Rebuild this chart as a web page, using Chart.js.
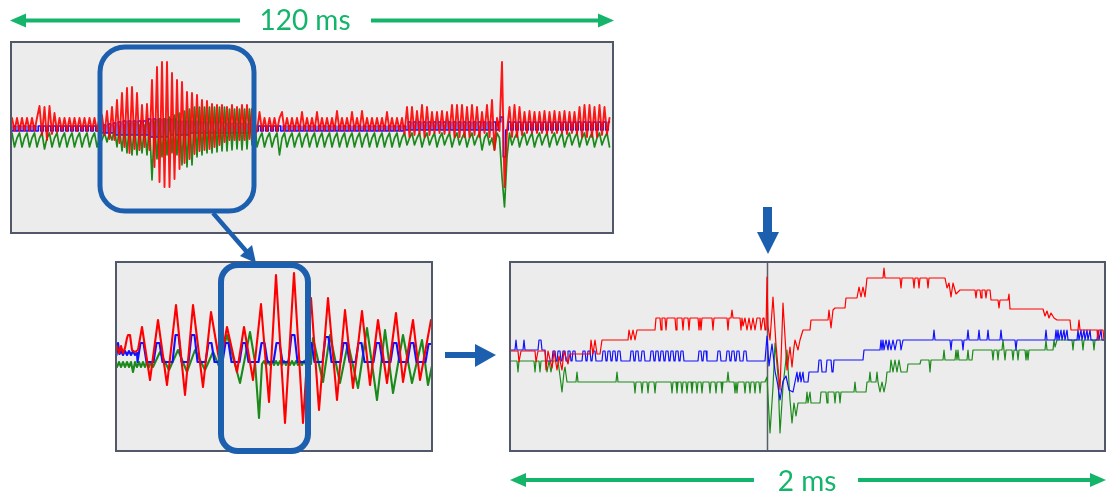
<!DOCTYPE html>
<html>
<head>
<meta charset="utf-8">
<script src="https://cdn.jsdelivr.net/npm/chart.js@4.4.1/dist/chart.umd.min.js"></script>
<style>
  html, body { margin: 0; padding: 0; background: #ffffff; width: 1106px; height: 493px; overflow: hidden; }
  .panel { position: absolute; box-sizing: border-box; border: 2px solid #505869; background: #ececec; }
  .panel canvas { display: block; }
  #ann { position: absolute; left: 0; top: 0; pointer-events: none; }
</style>
</head>
<body>
<div class="panel" style="left:10px;top:41px;width:604px;height:193px"><canvas id="cTop" width="600" height="189"></canvas></div>
<div class="panel" style="left:115px;top:261px;width:318px;height:191px"><canvas id="cMid" width="314" height="187"></canvas></div>
<div class="panel" style="left:509px;top:261px;width:597px;height:191px"><canvas id="cZoom" width="593" height="187"></canvas></div>

<svg id="ann" width="1106" height="493" viewBox="0 0 1106 493">
  <g fill="#14b56b">
    <rect x="24" y="18.5" width="216" height="4"/>
    <polygon points="10,20.5 26,13.5 26,27.5"/>
    <rect x="371" y="18.5" width="229" height="4"/>
    <polygon points="614,20.5 598,13.5 598,27.5"/>
    <rect x="524" y="478" width="230" height="4"/>
    <polygon points="510,480 526,473 526,487"/>
    <rect x="858" y="478" width="234" height="4"/>
    <polygon points="1106,480 1090,473 1090,487"/>
  </g>
  <text x="305" y="30" text-anchor="middle" font-family="Lato, 'Open Sans', sans-serif" font-size="28" fill="#14b56b">120 ms</text>
  <text x="807" y="491" text-anchor="middle" font-family="Lato, 'Open Sans', sans-serif" font-size="28" fill="#14b56b">2 ms</text>
  <g fill="none" stroke="#1c5fae">
    <rect x="100" y="47" width="154" height="164" rx="25" ry="25" stroke-width="5"/>
    <rect x="221" y="265" width="87" height="186" rx="17" ry="17" stroke-width="6"/>
    <line x1="213" y1="213" x2="247" y2="252" stroke-width="4.5"/>
  </g>
  <g fill="#1c5fae">
    <polygon points="256,263 240,256 252,245"/>
    <rect x="445" y="352" width="32" height="6"/>
    <polygon points="475,344 496,355 475,367"/>
    <rect x="763" y="207" width="9" height="27"/>
    <polygon points="757,232 779,232 768,254"/>
  </g>
</svg>

<script>
// ---- Overview record: 120 ms, one sample every 0.5 ms ----
const topStepMs = 0.5;
const topRed = [
  19,6,19,6,19,6,19,6,19,6,
  19,31,2,30,-3,31,3,24,5,19,
  6,19,6,19,6,19,6,19,6,19,
  6,19,6,19,6,19,22,2,26,-2,
  30,-3,37,-6,44,-10,49,-16,50,-12,
  44,-13,32,-10,33,-13,57,-30,70,-45,
  75,-50,75,-50,64,-42,57,-32,55,-26,
  45,-22,44,-17,42,-14,37,-13,36,-12,
  33,-10,32,-8,32,-5,30,-3,32,-3,
  30,-3,32,-3,32,-2,28,2,6,25,
  6,19,6,19,6,19,6,19,25,6,
  19,6,19,6,19,6,25,6,19,6,
  19,6,25,6,19,6,19,6,19,6,
  26,6,19,6,19,6,25,6,19,6,
  26,6,19,6,19,6,19,6,19,6,
  25,6,19,6,19,6,19,3,30,0,
  30,2,26,3,32,0,30,2,25,4,
  25,4,26,3,25,4,32,0,32,0,
  32,0,30,0,32,2,30,0,25,4,
  32,0,37,-13,19,6,75,-50,6,30,
  0,32,0,30,2,25,4,26,4,25,
  4,25,4,26,3,25,4,26,4,25,
  4,26,3,25,4,25,3,30,0,32,
  0,32,0,30,0,32,2,30,3,19
];
const topBlue = [
  6,11,6,11,6,11,6,11,6,11,
  6,11,6,11,6,11,6,11,6,11,
  6,11,6,11,6,11,6,11,6,11,
  6,11,6,11,6,11,4,12,4,13,
  4,14,2,15,2,16,2,16,2,16,
  2,16,2,16,2,18,0,18,0,18,
  0,18,0,18,2,18,2,16,2,16,
  2,16,4,16,4,16,4,15,4,15,
  4,15,4,15,4,15,4,14,4,14,
  4,14,4,14,4,13,6,12,6,11,
  6,11,6,11,6,11,6,11,6,11,
  6,11,6,11,6,11,6,11,6,11,
  6,11,6,11,6,11,6,11,6,11,
  6,11,6,11,6,11,6,11,6,11,
  6,11,6,11,6,11,6,11,6,11,
  6,11,6,11,6,11,6,11,7,15,
  7,15,7,15,7,15,7,15,7,15,
  7,15,7,15,7,15,7,15,7,15,
  7,15,7,15,7,15,7,15,7,15,
  7,15,7,15,7,15,20,-20,7,15,
  7,15,7,15,7,15,7,15,7,15,
  7,15,7,15,7,15,7,15,7,15,
  7,15,7,15,7,15,7,15,7,15,
  7,15,7,15,7,15,7,15,7,15
];
const topGreen = [
  4,-10,-1,4,-10,-1,4,-10,-1,4,
  -10,-1,4,-12,-1,4,-10,-1,4,-10,
  -1,4,-10,-1,4,-10,-1,4,-10,-1,
  4,-10,-1,4,-10,-1,-3,4,-5,4,
  -3,8,-10,10,-14,12,-16,14,-18,14,
  -18,12,-16,12,-18,14,-43,16,-22,18,
  -20,18,-18,20,-16,22,-18,24,-28,26,
  -30,28,-28,30,-20,30,-18,30,-16,30,
  -16,30,-15,30,-14,30,-14,28,-13,28,
  -12,28,-13,28,-12,28,-8,20,-10,-1,
  4,-10,-1,4,-10,-1,4,-18,-1,4,
  -10,-1,4,-10,-1,4,-10,-1,4,-10,
  -1,4,-10,-1,4,-10,-1,4,-10,-1,
  4,-10,-1,4,-10,-1,4,-10,-1,4,
  -10,-1,4,-10,-1,4,-10,-1,4,-10,
  -1,4,-10,-1,4,-10,-1,4,-8,-1,
  4,-8,-1,4,-10,-1,4,-8,-1,4,
  -10,-1,4,-8,-1,4,-10,-1,4,-8,
  -1,4,-10,-1,4,-8,-1,4,-13,-1,
  4,-8,-1,-13,4,-1,-40,-70,-20,4,
  -8,-1,4,-10,-1,4,-8,-1,4,-10,
  -1,4,-8,-1,4,-10,-1,4,-8,-1,
  4,-10,-1,4,-8,-1,4,-10,-1,4,
  -8,-1,4,-10,-1,4,-8,-1,4,-10
];

// ---- Burst detail: [time, value] ----
const midRed = [[0,6],[2,10],[4,3],[6,10],[8,3],[10,8],[12,18],[13,21],[15,21],[17,6],[20,4],[23,6],[27,29],[35,-24],[43,36],[52,-29],[61,51],[70,-39],[78,51],[88,-31],[96,44],[105,-9],[112,29],[122,-16],[129,29],[138,-24],[146,52],[154,-46],[161,81],[170,-67],[179,83],[188,-67],[196,58],[204,-54],[213,58],[222,-44],[230,46],[238,-32],[247,45],[255,-29],[263,36],[272,-27],[281,43],[288,-26],[298,36],[305,-24],[316,36],[318,30]];
const midBlue = [[0,5],[1.5,1],[3,13],[4.5,2],[6,5],[8,1],[10,5],[12,1],[14,5],[16,1],[18,5],[20,1],[22,3],
  [22.5,-6],[25.5,13],[28.5,13],[31.5,-6],
  [38.5,-6],[41.5,13],[44.5,13],[47.5,-6],
  [57.5,-6],[60.5,21],[63.5,21],[66.5,-6],
  [73.5,-6],[76.5,21],[79.5,21],[82.5,-6],
  [90.5,-6],[93.5,13],[96.5,13],[99.5,-6],
  [107.5,-6],[110.5,13],[113.5,13],[116.5,-6],
  [124.5,-6],[127.5,13],[130.5,13],[133.5,-6],
  [143.5,-6],[146.5,13],[149.5,13],[152.5,-6],
  [158.5,-6],[161.5,13],[164.5,13],[167.5,-6],
  [173.5,-6],[176.5,21],[179.5,21],[182.5,-6],
  [190.5,-6],[193.5,13],[196.5,13],[199.5,-6],
  [207.5,-6],[210.5,19],[213.5,19],[216.5,-6],
  [225.5,-6],[228.5,13],[231.5,13],[234.5,-6],
  [240.5,-6],[243.5,13],[246.5,13],[249.5,-6],
  [258.5,-6],[261.5,13],[264.5,13],[267.5,-6],
  [275.5,-6],[278.5,13],[281.5,13],[284.5,-6],
  [292.5,-6],[295.5,13],[298.5,13],[301.5,-6],
  [310.5,-6],[313.5,12],[316.5,12],[319.5,-6]];
const midGreen = [[0,-6],[2,-11],[4,-6],[6,-11],[8,-6],[10,-11],[12,-6],[14,-11],[16,-6],[18,-16],[20,-6],[22,-11],[24,-6],[26,-11],[28,-6],[30,-11],[32,-6],[34,-11],[36,-6],[38,-11],
  [45,4],[54,-14],[63,6],[72,-16],[80,6],[90,-14],[98,4],[104,-10],[112,21],[125,-27],[135,24],[140,-6],[144,-62],[147,-8],
  [149,-5],[151,-9],[153,-5],[155,-9],[157,-5],[159,-9],[161,-5],[163,-9],[165,-5],[167,-9],[169,-5],[171,-9],[173,-5],[175,-9],[177,-5],[179,-9],[181,-5],[183,-9],[185,-5],[187,-9],[189,-5],[191,-9],[193,-5],[196,-8],
  [198,18],[208,-26],[215,21],[225,-27],[233,13],[243,-32],[252,28],[262,-44],[270,26],[278,-37],[288,21],[297,-27],[307,16],[313,-29],[318,-5]];

// ---- 2 ms around the fault instant: [sample, value] ----
const faultSample = 257;
const zoomRed = [[0,5],[8,5],[9,-6],[11,5],[25,5],[26,-6],[28,5],[35,5],[36,-14],[38,5],[42,-12],[44,5],[47,-14],[49,0],[52,-14],[54,5],[58,-8],[60,2],[80,2],[81,16],[83,2],[85,16],[87,2],[90,2],[92,16],[118,16],[119,26],[121,16],[123,26],[125,16],[127,26],[145,26],[146,38],[150,38],[151,26],[152,38],[155,38],[156,26],[157,38],[165,38],[166,26],[167,38],[172,38],[173,26],[174,38],[178,38],[179,26],[180,38],[188,38],[189,26],[190,38],[191,26],[192,38],[202,38],[203,26],[204,38],[217,38],[218,26],[219,38],[221,38],[222,46],[223,38],[230,38],[231,26],[232,38],[233,30],[235,38],[237,26],[239,38],[241,26],[243,38],[245,26],[247,38],[250,38],[251,26],[253,38],[254,38],[255,26],[256,26],
  [257,79],[258,30],[260,16],[263,59],[266,11],[270,-34],[273,53],[277,-14],[280,9],[282,-11],[284,9],[285,16],[288,6],[290,16],[293,26],[300,26],[301,36],[318,36],[319,46],[321,28],[323,46],[325,48],[335,48],[336,58],[347,58],[349,69],[351,59],[353,69],[355,59],[357,78],[373,78],[374,88],[375,78],[390,78],[391,68],[392,78],[403,78],[404,68],[405,78],[408,78],[409,68],[410,78],[417,78],[418,68],[419,78],[435,78],[437,68],[439,73],[441,59],[443,73],[446,62],[450,66],[465,66],[466,58],[467,66],[470,66],[471,58],[472,66],[475,66],[476,58],[477,66],[480,66],[481,56],[488,56],[489,48],[490,56],[498,56],[499,62],[500,47],[533,47],[535,40],[537,45],[539,38],[541,43],[544,38],[547,36],[560,36],[561,26],[568,26],[569,36],[570,26],[587,26],[588,16],[589,26],[593,26],[594,16],[595,26]];
const zoomBlue = [[0,6],[5,6],[6,16],[7,6],[13,6],[14,16],[15,6],[28,6],[29,16],[31,16],[32,6],[35,6],[36,-5],
  [42,-5],[43,5],[45,5],[46,-5],[47,-5],[48,5],[50,5],[51,-5],[52,-5],[53,5],[55,5],[56,-5],[57,-5],[58,5],[60,5],[61,-5],[62,-5],[63,5],[65,5],[66,-5],
  [72,-5],[73,5],[75,5],[76,-5],[77,-5],[78,5],[80,5],[81,-5],[82,-5],[83,5],[85,5],[86,-5],
  [92,-5],[93,5],[95,5],[96,-5],[97,-5],[98,5],[100,5],[101,-5],[102,-5],[103,5],[105,5],[106,-5],[107,-5],[108,5],[110,5],[111,-5],
  [120,-5],[121,5],[123,5],[124,-5],[125,-5],[126,5],[128,5],[129,-5],[131,-5],[132,5],[134,5],[135,-5],
  [140,-5],[141,5],[143,5],[144,-5],[145,-5],[146,5],[148,5],[149,-5],[150,-5],[151,5],[153,5],[154,-5],[155,-5],[156,5],[158,5],[159,-5],[160,-5],[161,5],[163,5],[164,-5],[165,-5],[166,5],[168,5],[169,-5],[170,-5],[171,5],[173,5],[174,-5],
  [188,-5],[189,5],[191,5],[192,-5],[193,-5],[194,5],[196,5],[197,-5],
  [207,-5],[208,5],[210,5],[211,-5],
  [216,-5],[217,5],[219,5],[220,-5],[221,-5],[222,5],[224,5],[225,-5],[226,-5],[227,5],[229,5],[230,-5],
  [233,-5],[234,5],[236,5],[237,-5],[255,-5],
  [257,20],[259,-10],[262,12],[265,-15],[268,-30],[270,-44],[273,-25],[276,-20],[279,-34],[283,-36],[285,-26],[287,-16],[288,-26],[290,-16],[291,-26],[293,-16],[294,-26],[298,-26],[299,-16],[308,-16],[309,-4],[311,-4],[312,-16],[316,-16],[317,-4],[321,-4],[322,-16],[323,-16],[324,-4],[353,-4],[354,6],[370,6],[371,16],[372,6],[373,16],[374,6],[376,16],[378,6],[379,16],[381,6],[383,16],[385,6],[387,16],[390,16],[391,6],[393,16],[423,16],[424,26],[425,16],[440,16],[441,6],[442,16],[452,16],[453,6],[454,16],[457,16],[458,26],[459,16],[468,16],[469,26],[470,16],[477,16],[478,26],[479,16],[490,16],[491,26],[492,16],[505,16],[506,6],[507,16],[535,16],[536,26],[537,16],[545,16],[546,26],[547,16],[548,26],[549,16],[551,26],[552,16],[554,26],[555,16],[557,26],[558,16],[567,16],[568,26],[569,16],[571,26],[572,16],[574,26],[575,16],[577,26],[578,16],[580,26],[581,16],[587,16],[588,26],[589,16],[591,26],[592,16],[595,16]];
const zoomGreen = [[0,-5],[7,-5],[8,-16],[9,-5],[24,-5],[25,-16],[26,-5],[29,-5],[30,-16],[31,-5],[36,-5],[37,-16],[39,-5],[41,-16],[43,-5],[48,-5],[50,-20],[52,-36],[54,-16],[55,-11],[57,-26],[66,-26],[67,-16],[68,-26],[106,-26],[107,-16],[108,-26],
  [124,-26],[125,-37],[126,-26],[131,-26],[132,-37],[133,-26],[137,-26],[138,-37],[139,-26],[144,-26],[145,-37],[146,-26],[161,-26],[162,-37],[163,-26],[166,-26],[167,-37],[168,-26],[171,-26],[172,-37],[173,-26],[176,-26],[177,-37],[178,-26],[181,-26],[182,-37],[183,-26],[186,-26],[187,-37],[188,-26],[191,-26],[192,-37],[193,-26],[199,-26],[200,-37],[201,-26],[205,-26],[206,-37],[207,-26],[211,-26],[212,-37],[213,-26],[217,-26],[218,-16],[219,-26],[224,-26],[225,-37],[226,-26],[227,-37],[228,-26],[234,-26],[235,-37],[236,-26],[239,-26],[240,-37],[241,-26],[244,-26],[245,-37],[246,-26],[249,-26],[250,-37],[251,-26],[255,-26],
  [257,-21],[260,-77],[263,-31],[265,13],[268,-20],[270,-77],[273,-30],[277,6],[280,-44],[282,-67],[284,-47],[286,-60],[288,-47],[296,-47],[297,-36],[298,-47],[300,-36],[301,-47],[310,-47],[311,-36],[316,-36],[317,-47],[318,-36],[324,-36],[325,-47],[326,-36],[329,-36],[330,-47],[331,-36],[344,-36],[345,-26],[346,-36],[356,-36],[357,-26],[359,-26],[360,-16],[361,-26],[366,-26],[367,-16],[368,-26],[370,-36],[372,-26],[374,-36],[376,-26],[377,-16],[380,-16],[381,-4],[383,-16],[385,-4],[387,-16],[389,-4],[391,-16],[397,-16],[398,-8],[410,-8],[411,-4],[419,-4],[420,-16],[421,-4],[433,-4],[434,6],[435,-4],[445,-4],[446,6],[447,-4],[448,6],[449,-4],[457,-4],[458,6],[459,-4],[462,-4],[463,6],[482,6],[483,-4],[484,6],[487,6],[488,-4],[489,6],[492,6],[493,16],[494,6],[495,-4],[496,6],[502,6],[503,-4],[504,6],[507,6],[508,-4],[509,6],[515,6],[516,-4],[517,6],[518,-4],[519,6],[535,6],[536,16],[537,6],[543,6],[544,16],[545,9],[547,16],[562,16],[563,6],[564,16],[572,16],[573,6],[574,16],[583,16],[584,6],[585,16],[595,16],[596,6]];

const RED = '#ff0000', BLUE = '#1010ff', GREEN = '#1b8a1b';

function sampled(values, dt) { return values.map((v, i) => ({ x: i * dt, y: v })); }
function pairs(list) { return list.map(p => ({ x: p[0], y: p[1] })); }
function trace(data, color, width, stepped) {
  return { data, borderColor: color, borderWidth: width, pointRadius: 0, tension: 0,
           stepped: stepped || false,
           borderJoinStyle: 'round', borderCapStyle: 'round', fill: false };
}
function scope(id, datasets, xr, yr, extra) {
  return new Chart(document.getElementById(id), {
    type: 'line',
    data: { datasets },
    options: {
      responsive: false, animation: false, events: [],
      layout: { padding: 0 },
      plugins: { legend: { display: false }, tooltip: { enabled: false } },
      scales: {
        x: { type: 'linear', min: xr[0], max: xr[1], display: false },
        y: { type: 'linear', min: yr[0], max: yr[1], display: false }
      }
    },
    plugins: extra || []
  });
}

// vertical marker at the fault instant
const faultMarker = {
  id: 'faultMarker',
  beforeDatasetsDraw(chart) {
    const { ctx, chartArea: a, scales: { x } } = chart;
    const px = Math.round(x.getPixelForValue(faultSample)) + 0.5;
    ctx.save();
    ctx.strokeStyle = '#5a5f66';
    ctx.lineWidth = 1.5;
    ctx.beginPath(); ctx.moveTo(px, a.top); ctx.lineTo(px, a.bottom); ctx.stroke();
    ctx.restore();
  }
};

// first dataset is painted last (on top)
scope('cTop', [
  trace(sampled(topRed, topStepMs), 'rgba(255,0,0,0.9)', 1.9),
  trace(sampled(topGreen, topStepMs), GREEN, 1.7),
  trace(sampled(topBlue, topStepMs), BLUE, 1.6, 'middle')
], [0, 120], [-95, 94]);

scope('cMid', [
  trace(pairs(midRed), RED, 2.1),
  trace(pairs(midBlue), BLUE, 2.1),
  trace(pairs(midGreen), GREEN, 2.1)
], [2, 316], [-94, 93]);

scope('cZoom', [
  trace(pairs(zoomRed), RED, 1.2),
  trace(pairs(zoomBlue), BLUE, 1.2),
  trace(pairs(zoomGreen), GREEN, 1.2)
], [1, 594], [-94, 93], [faultMarker]);
</script>
</body>
</html>
